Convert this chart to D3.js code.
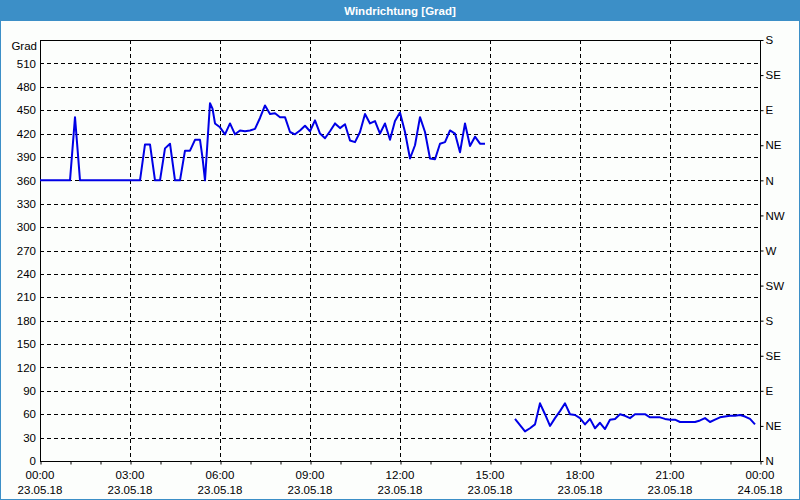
<!DOCTYPE html>
<html><head><meta charset="utf-8">
<script src="https://cdn.jsdelivr.net/npm/d3@7/dist/d3.min.js"></script>
<style>body{margin:0;padding:0;background:#fff;}svg{display:block;}</style>
</head><body>
<script>
const title = "Windrichtung [Grad]";
const yLabel = "Grad";
const yTicks = [0,30,60,90,120,150,180,210,240,270,300,330,360,390,420,450,480,510];
const compassTicks = [0,45,90,135,180,225,270,315,360,405,450,495,540];
const compassLabels = ["N","NE","E","SE","S","SW","W","NW","N","NE","E","SE","S"];
const xTickHours = [0,3,6,9,12,15,18,21,24];
const xTickTimes = ["00:00","03:00","06:00","09:00","12:00","15:00","18:00","21:00","00:00"];
const xTickDates = ["23.05.18","23.05.18","23.05.18","23.05.18","23.05.18","23.05.18","23.05.18","23.05.18","24.05.18"];

const times1 = ["00:00","01:00","01:10","01:20","03:20","03:30","03:40","03:50","04:00","04:10","04:20","04:30","04:40","04:50","05:00","05:10","05:20","05:25","05:30","05:40","05:45","05:50","06:00","06:10","06:20","06:30","06:40","06:50","07:00","07:10","07:20","07:30","07:40","07:50","08:00","08:10","08:20","08:30","08:40","08:50","09:00","09:10","09:20","09:30","09:40","09:50","10:00","10:10","10:20","10:30","10:40","10:50","11:00","11:10","11:20","11:30","11:40","11:50","12:00","12:10","12:20","12:30","12:40","12:50","13:00","13:10","13:20","13:30","13:40","13:50","14:00","14:10","14:20","14:30","14:40","14:50"];
const values1 = [360,360,441,360,360,406,406,360,360,401,407,360,360,398,398,412,412,389,360,459,452,433,428,419,433,419,424,423,424,426,440,456,445,446,441,441,422,419,424,430,423,437,420,414,423,433,427,432,411,409,422,445,433,436,420,433,412,436,447,422,388,405,441,422,388,387,407,409,424,420,396,433,404,416,407,407];

const times2 = ["15:50","16:00","16:10","16:20","16:30","16:40","16:50","17:00","17:10","17:20","17:30","17:40","17:50","18:00","18:10","18:20","18:30","18:40","18:50","19:00","19:10","19:20","19:30","19:40","19:50","20:00","20:10","20:20","20:30","20:40","20:50","21:00","21:10","21:20","21:30","21:40","21:50","22:00","22:10","22:20","22:30","22:40","22:50","23:00","23:10","23:20","23:30","23:40","23:50"];
const values2 = [54,46,38,42,47,74,60,45,55,64,74,60,59,55,47,54,42,49,41,53,54,60,58,55,60,60,60,56,56,56,54,53,53,50,50,50,50,52,55,50,53,56,57,58,58,59,57,54,47];

const FONT = "Tahoma, 'Liberation Sans', Arial, sans-serif";
const W = 800, H = 500;
const svg = d3.select("body").append("svg").attr("width", W).attr("height", H)
  .style("font-family", FONT);

svg.append("rect").attr("x",0).attr("y",0).attr("width",W).attr("height",H).attr("fill","#3c8fc7");
svg.append("rect").attr("x",1).attr("y",21).attr("width",W-2).attr("height",H-22).attr("fill","#fcfefc");
svg.append("text").attr("x",W/2).attr("y",15).attr("text-anchor","middle")
  .attr("fill","#fff").attr("font-weight","bold").attr("font-size",11.5).text(title);

const pL = 40, pR = 760, pT = 40, pB = 461;
const parseHM = s => { const [h,m] = s.split(":").map(Number); return h + m/60; };
const x = d3.scaleLinear().domain([0,24]).range([pL,pR]);
const y = d3.scaleLinear().domain([0,540]).range([pB,pT]);

// grid
const g = svg.append("g");
g.selectAll(".hg").data(yTicks.filter(d => d>0)).join("line")
  .attr("x1",pL).attr("x2",pR).attr("y1",d=>Math.round(y(d))+0.5).attr("y2",d=>Math.round(y(d))+0.5)
  .attr("stroke","#000").attr("stroke-dasharray","4,3").attr("stroke-width",1);
g.selectAll(".vg").data(xTickHours.filter(d => d>0 && d<24)).join("line")
  .attr("y1",pT).attr("y2",pB).attr("x1",d=>Math.round(x(d))+0.5).attr("x2",d=>Math.round(x(d))+0.5)
  .attr("stroke","#000").attr("stroke-dasharray","4,3").attr("stroke-width",1);

// frame
svg.append("rect").attr("x",pL+0.5).attr("y",pT+0.5).attr("width",pR-pL).attr("height",pB-pT)
  .attr("fill","none").attr("stroke","#000").attr("stroke-width",1);

// left axis labels
const la = svg.append("g").attr("transform",`translate(${pL},0)`)
  .call(d3.axisLeft(y).tickValues(yTicks).tickSize(0).tickPadding(4));
la.select(".domain").remove();
la.selectAll("text").attr("font-size",11.5).attr("fill","#000").style("font-family",FONT);
svg.append("text").attr("x",pL-3).attr("y",50).attr("text-anchor","end").attr("font-size",11.5).attr("fill","#000").text(yLabel);

// right axis compass
const ra = svg.append("g").attr("transform",`translate(${pR+0.5},0)`)
  .call(d3.axisRight(y).tickValues(compassTicks).tickSize(3).tickPadding(2).tickFormat((d,i)=>compassLabels[i]));
ra.select(".domain").remove();
ra.selectAll("line").attr("stroke","#000");
ra.selectAll("text").attr("font-size",11.5).attr("fill","#000").style("font-family",FONT);

// bottom axis
const ba = svg.append("g").attr("transform",`translate(0,${pB+0.5})`)
  .call(d3.axisBottom(x).ticks(24).tickSize(3).tickFormat(""));
ba.select(".domain").remove();
ba.selectAll("line").attr("stroke","#000").attr("transform","translate(0.5,0)");
const xl = svg.append("g");
xl.selectAll(".t1").data(xTickHours).join("text").attr("x",d=>x(d)).attr("y",479)
  .attr("text-anchor","middle").attr("font-size",11.5).attr("fill","#000").text((d,i)=>xTickTimes[i]);
xl.selectAll(".t2").data(xTickHours).join("text").attr("x",d=>x(d)).attr("y",494)
  .attr("text-anchor","middle").attr("font-size",11.5).attr("fill","#000").text((d,i)=>xTickDates[i]);

// lines
const line = d3.line().x(d=>x(d[0])).y(d=>y(d[1]));
[[times1,values1],[times2,values2]].forEach(([t,v]) => {
  svg.append("path").datum(t.map((s,i)=>[parseHM(s), v[i]]))
    .attr("d", line).attr("fill","none").attr("stroke","#0000e6").attr("stroke-width",2).attr("stroke-linejoin","round");
});
</script>
</body></html>
